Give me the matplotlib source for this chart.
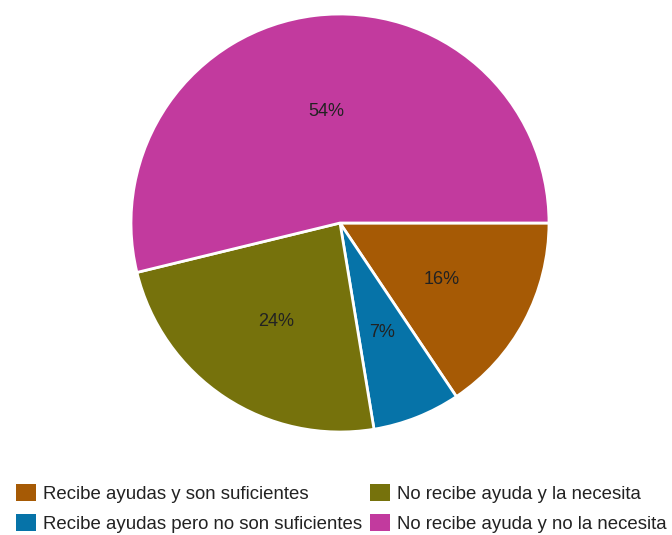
import matplotlib
matplotlib.use("Agg")
import matplotlib.pyplot as plt

categories = ["Recibe ayudas y son suficientes",
              "Recibe ayudas pero no son suficientes",
              "No recibe ayuda y la necesita",
              "No recibe ayuda y no la necesita"]
values = [15.6, 6.8, 23.8, 53.8]
colors = ["#A65A05", "#0673A8", "#76720C", "#C23A9E"]

plt.rcParams['font.family'] = ['Liberation Sans', 'DejaVu Sans']

fig = plt.figure(figsize=(6.72, 5.35), dpi=100)
W, H = 672, 535
cx, cy, r = 340, 223, 209
ax = fig.add_axes([(cx - r) / W, 1 - (cy + r) / H, 2 * r / W, 2 * r / H])
wedges, texts, autotexts = ax.pie(values, colors=colors, startangle=0, counterclock=False,
                                  autopct='%.0f%%', pctdistance=0.55,
                                  wedgeprops=dict(edgecolor='white', linewidth=2),
                                  textprops=dict(color='#222222', fontsize=13))
for t in autotexts:
    x, y = t.get_position()
    t.set_position((x, y - 0.012))
ax.set_aspect('equal')
ax.set_xlim(-1, 1)
ax.set_ylim(-1, 1)
ax.axis('off')

leg = fig.legend(wedges, categories, ncol=2, loc='upper left',
                 bbox_to_anchor=(12 / W, 1 - 480 / H), frameon=False,
                 fontsize=13.4, handlelength=1.07, handleheight=1.07,
                 handletextpad=0.38, columnspacing=0.43, labelspacing=0.6,
                 borderaxespad=0, borderpad=0.2)
for t in leg.get_texts():
    t.set_color('#222222')
for h in leg.legend_handles:
    h.set_edgecolor('none')

fig.savefig("out.png", dpi=100)
